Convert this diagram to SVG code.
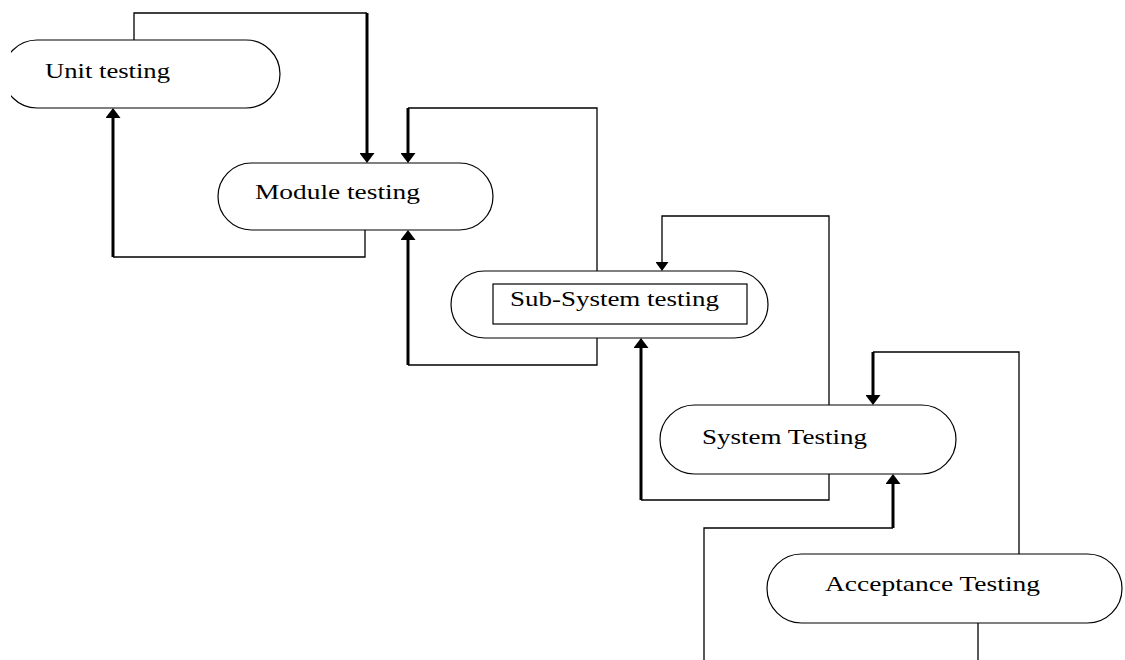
<svg xmlns="http://www.w3.org/2000/svg" width="1125" height="660" viewBox="0 0 1125 660">
<style>
.node{fill:#fff;stroke:#000;stroke-width:1.2}
.lbl{font-family:"Liberation Serif","Times New Roman",serif;font-size:21px;fill:#000}
.thin{fill:none;stroke:#000;stroke-width:1.3}
.thick{fill:none;stroke:#000;stroke-width:3}
</style>
<defs>
<marker id="ah" viewBox="0 0 10 15" refX="0" refY="7.5" markerWidth="10" markerHeight="15" markerUnits="userSpaceOnUse" orient="auto">
<path d="M0 0 L10 7.5 L0 15 Z" fill="#000"/>
</marker>
<marker id="ahs" viewBox="0 0 9 13" refX="0" refY="6.5" markerWidth="9" markerHeight="13" markerUnits="userSpaceOnUse" orient="auto">
<path d="M0 0 L9 6.5 L0 13 Z" fill="#000"/>
</marker>
<clipPath id="leftclip"><rect x="11" y="0" width="1114" height="660"/></clipPath>
</defs>
<rect width="1125" height="660" fill="#fff"/>
<g id="connectors">
<path class="thin" d="M134 40 V13 H367"/>
<path class="thick" d="M367 13 V153" marker-end="url(#ah)"/>
<path class="thin" d="M365 230 V257 H113"/>
<path class="thick" d="M113 257 V118" marker-end="url(#ah)"/>
<path class="thin" d="M597 271 V108 H408"/>
<path class="thick" d="M408 108 V153" marker-end="url(#ah)"/>
<path class="thin" d="M597 338 V365 H408"/>
<path class="thick" d="M408 365 V240" marker-end="url(#ah)"/>
<path class="thin" d="M829 405 V216 H662 V262" marker-end="url(#ahs)"/>
<path class="thin" d="M829 474 V500 H641"/>
<path class="thick" d="M641 500 V348" marker-end="url(#ah)"/>
<path class="thin" d="M1019 554 V352 H873"/>
<path class="thick" d="M873 352 V395" marker-end="url(#ah)"/>
<path class="thin" d="M704 660 V528 H893"/>
<path class="thick" d="M893 528 V484" marker-end="url(#ah)"/>
<path class="thin" d="M978 623 V660"/>
</g>
<g id="unit">
<rect class="node" x="3" y="40" width="277" height="68" rx="34" clip-path="url(#leftclip)"/>
<text class="lbl" x="45" y="78" textLength="125" lengthAdjust="spacingAndGlyphs">Unit testing</text>
</g>
<g id="module">
<rect class="node" x="218" y="163" width="275" height="67" rx="33.5"/>
<text class="lbl" x="255" y="199" textLength="165" lengthAdjust="spacingAndGlyphs">Module testing</text>
</g>
<g id="subsystem">
<rect class="node" x="451" y="271" width="317" height="67" rx="33.5"/>
<rect class="node" x="493" y="284" width="254" height="40"/>
<text class="lbl" x="510" y="306" textLength="209" lengthAdjust="spacingAndGlyphs">Sub-System testing</text>
</g>
<g id="system">
<rect class="node" x="660" y="405" width="296" height="69" rx="34.5"/>
<text class="lbl" x="702" y="444" textLength="165" lengthAdjust="spacingAndGlyphs">System Testing</text>
</g>
<g id="acceptance">
<rect class="node" x="767" y="554" width="355" height="69" rx="34.5"/>
<text class="lbl" x="825" y="591" textLength="215" lengthAdjust="spacingAndGlyphs">Acceptance Testing</text>
</g>
</svg>
